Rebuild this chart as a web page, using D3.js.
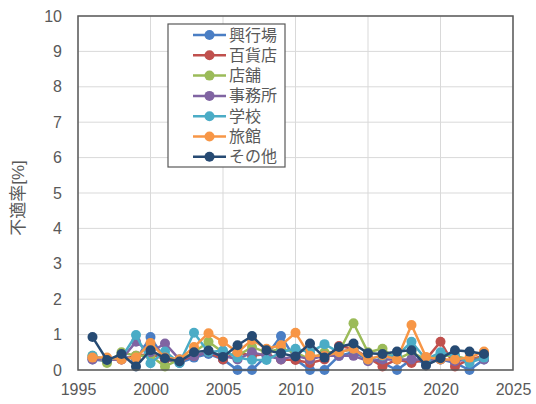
<!DOCTYPE html>
<html><head><meta charset="utf-8">
<script src="https://cdn.jsdelivr.net/npm/d3@7"></script>
<style>body{margin:0;background:#fff}svg{display:block}text{font-family:"Liberation Sans","Noto Sans CJK JP",sans-serif;fill:#595959}</style>
</head><body>
<script>
const years = d3.range(1996, 2024);
const seriesNames = ["興行場","百貨店","店舗","事務所","学校","旅館","その他"];
const colors = ["#4a7ec4","#c0504d","#9bbb59","#8064a2","#4bacc6","#f79646","#264a73"];
const kogyo   = [0.3,0.25,0.4,0.3,0.93,0.3,0.2,0.35,0.45,0.3,0.0,0.0,0.4,0.96,0.3,0.0,0.0,0.4,0.5,0.3,0.2,0.0,0.3,0.2,0.3,0.2,0.0,0.3];
const hyakka  = [0.35,0.3,0.3,0.4,0.45,0.3,0.25,0.4,0.5,0.3,0.5,0.4,0.45,0.3,0.28,0.2,0.3,0.68,0.6,0.35,0.1,0.3,0.2,0.3,0.8,0.1,0.3,0.4];
const tenpo   = [0.4,0.2,0.5,0.4,0.4,0.1,0.3,0.5,0.8,0.5,0.4,0.65,0.5,0.6,0.5,0.3,0.5,0.5,1.32,0.5,0.6,0.3,0.5,0.3,0.4,0.4,0.3,0.33];
const jimusho = [0.3,0.3,0.3,0.8,0.5,0.75,0.3,0.4,0.5,0.4,0.3,0.5,0.4,0.3,0.4,0.3,0.4,0.4,0.4,0.25,0.3,0.3,0.3,0.3,0.3,0.25,0.3,0.3];
const gakko   = [0.4,0.3,0.35,0.99,0.19,0.52,0.2,1.05,0.5,0.55,0.35,0.28,0.28,0.5,0.6,0.5,0.73,0.5,0.6,0.3,0.4,0.4,0.8,0.3,0.5,0.4,0.2,0.35];
const ryokan  = [0.35,0.35,0.3,0.35,0.76,0.35,0.3,0.65,1.04,0.8,0.5,0.85,0.6,0.7,1.05,0.4,0.4,0.5,0.6,0.3,0.42,0.3,1.27,0.37,0.3,0.3,0.35,0.52];
const sonota  = [0.93,0.28,0.45,0.1,0.56,0.33,0.24,0.5,0.55,0.37,0.7,0.96,0.56,0.47,0.38,0.75,0.35,0.65,0.75,0.47,0.45,0.52,0.56,0.13,0.33,0.56,0.52,0.45];
const seriesValues = [kogyo,hyakka,tenpo,jimusho,gakko,ryokan,sonota];
const xTicks = [1995,2000,2005,2010,2015,2020,2025];
const yTicks = [0,1,2,3,4,5,6,7,8,9,10];
const yLabel = "不適率[%]";

const W=536,H=404;
const svg=d3.select("body").append("svg").attr("width",W).attr("height",H);
const L=78,R=513,T=16,B=370;
const x=d3.scaleLinear().domain([1995,2025]).range([L,R]);
const y=d3.scaleLinear().domain([0,10]).range([B,T]);

svg.append("g").selectAll("line").data(yTicks).join("line")
  .attr("x1",L).attr("x2",R).attr("y1",d=>y(d)).attr("y2",d=>y(d))
  .attr("stroke","#d9d9d9").attr("stroke-width",1);
svg.append("g").selectAll("line").data(xTicks).join("line")
  .attr("y1",T).attr("y2",B).attr("x1",d=>x(d)).attr("x2",d=>x(d))
  .attr("stroke","#d9d9d9").attr("stroke-width",1);

const yAxis=d3.axisLeft(y).tickValues(yTicks).tickSize(0).tickPadding(16).tickFormat(d3.format("d"));
const gy=svg.append("g").attr("transform",`translate(${L},0)`).call(yAxis);
gy.select(".domain").remove();
gy.selectAll("text").attr("font-size",16).attr("fill","#595959");
const xAxis=d3.axisBottom(x).tickValues(xTicks).tickSize(0).tickPadding(14).tickFormat(d3.format("d"));
const gx=svg.append("g").attr("transform",`translate(0,${B})`).call(xAxis);
gx.select(".domain").remove();
gx.selectAll("text").attr("font-size",16).attr("fill","#595959");

svg.append("text").attr("transform",`translate(24,198) rotate(-90)`)
  .attr("text-anchor","middle").attr("font-size",17).text(yLabel);

const line=d3.line().x((d,i)=>x(years[i])).y(d=>y(d));
seriesValues.forEach((vals,k)=>{
  const g=svg.append("g");
  g.append("path").datum(vals).attr("d",line).attr("fill","none")
    .attr("stroke",colors[k]).attr("stroke-width",2.5).attr("stroke-linejoin","round");
  g.selectAll("circle").data(vals).join("circle")
    .attr("cx",(d,i)=>x(years[i])).attr("cy",d=>y(d)).attr("r",5).attr("fill",colors[k]);
});

svg.append("rect").attr("x",L).attr("y",T).attr("width",R-L).attr("height",B-T)
  .attr("fill","none").attr("stroke","#595959").attr("stroke-width",1.5);

const lg=svg.append("g");
lg.append("rect").attr("x",168).attr("y",24).attr("width",117).attr("height",143)
  .attr("fill","#fff").attr("stroke","#595959").attr("stroke-width",1.2);
seriesNames.forEach((n,k)=>{
  const yy=35+k*20.3;
  lg.append("line").attr("x1",193).attr("x2",226).attr("y1",yy).attr("y2",yy)
    .attr("stroke",colors[k]).attr("stroke-width",2.5);
  lg.append("circle").attr("cx",209.5).attr("cy",yy).attr("r",5).attr("fill",colors[k]);
  lg.append("text").attr("x",229).attr("y",yy+5.5).attr("font-size",16).text(n);
});
</script>
</body></html>
